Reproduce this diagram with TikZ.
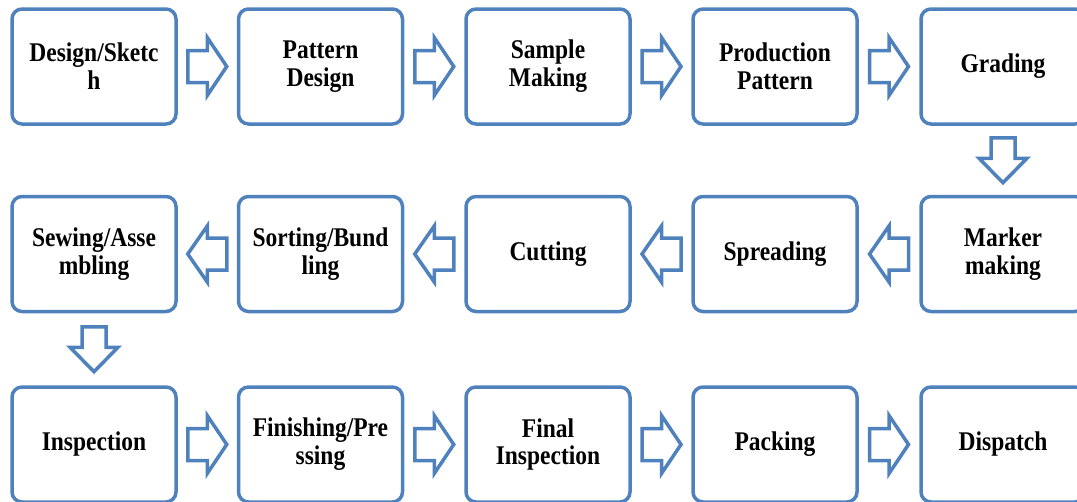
\documentclass[tikz,border=0pt]{standalone}
\usepackage{fontspec}
\setmainfont{Liberation Serif}[FakeStretch=0.87]
\usetikzlibrary{calc}
\definecolor{bx}{RGB}{79,129,189}
\tikzset{
  box/.style={draw=bx, line width=3.5pt, rounded corners=10pt, minimum width=164pt, minimum height=115pt,
    align=center, inner sep=0pt, font=\fontsize{27}{28}\selectfont\bfseries},
  blk/.style={draw=bx, line width=3.5pt, fill=white, line join=miter},
  rarr/.pic={\draw[blk] (-19.5,16) -- (0,16) -- (0,29) -- (19.5,0) -- (0,-29) -- (0,-16) -- (-19.5,-16) -- cycle;},
  larr/.pic={\draw[blk] (19.5,16) -- (0,16) -- (0,28) -- (-19.5,0) -- (0,-28) -- (0,-16) -- (19.5,-16) -- cycle;},
  darr/.pic={\draw[blk] (-12,-22.5) -- (12,-22.5) -- (12,-2) -- (24,-2) -- (0,22.5) -- (-24,-2) -- (-12,-2) -- cycle;}
}
\begin{document}
\begin{tikzpicture}[x=1pt,y=-1pt]
\useasboundingbox (0,0) rectangle (1077,501);
% row 1
\node[box] (a1) at (94,66.5) {Design/Sketc\\h};
\node[box] (a2) at (320.5,66.5) {Pattern\\Design};
\node[box] (a3) at (548,66.5) {Sample\\Making};
\node[box] (a4) at (775,66.5) {Production\\Pattern};
\node[box] (a5) at (1003,66.5) {Grading};
% row 2
\node[box] (b1) at (94,254) {Sewing/Asse\\mbling};
\node[box] (b2) at (320.5,254) {Sorting/Bund\\ling};
\node[box] (b3) at (548,254) {Cutting};
\node[box] (b4) at (775,254) {Spreading};
\node[box] (b5) at (1003,254) {Marker\\making};
% row 3
\node[box] (c1) at (94,444.5) {Inspection};
\node[box] (c2) at (320.5,444.5) {Finishing/Pre\\ssing};
\node[box] (c3) at (548,444.5) {Final\\Inspection};
\node[box] (c4) at (775,444.5) {Packing};
\node[box] (c5) at (1003,444.5) {Dispatch};
% arrows
\pic at ($(a1.east)!0.5!(a2.west)$) {rarr};
\pic at ($(a2.east)!0.5!(a3.west)$) {rarr};
\pic at ($(a3.east)!0.5!(a4.west)$) {rarr};
\pic at ($(a4.east)!0.5!(a5.west)$) {rarr};
\pic at ($(a5.south)!0.5!(b5.north)$) {darr};
\pic at ($(b5.west)!0.5!(b4.east)$) {larr};
\pic at ($(b4.west)!0.5!(b3.east)$) {larr};
\pic at ($(b3.west)!0.5!(b2.east)$) {larr};
\pic at ($(b2.west)!0.5!(b1.east)$) {larr};
\pic at ($(b1.south)!0.5!(c1.north)$) {darr};
\pic at ($(c1.east)!0.5!(c2.west)$) {rarr};
\pic at ($(c2.east)!0.5!(c3.west)$) {rarr};
\pic at ($(c3.east)!0.5!(c4.west)$) {rarr};
\pic at ($(c4.east)!0.5!(c5.west)$) {rarr};
\end{tikzpicture}
\end{document}
